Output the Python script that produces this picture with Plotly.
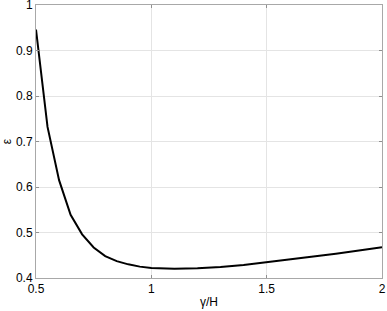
import plotly.graph_objects as go

gamma_h = [0.5, 0.55, 0.6, 0.65, 0.7, 0.75, 0.8, 0.85, 0.9, 0.95, 1.0, 1.05, 1.1,
           1.2, 1.3, 1.4, 1.5, 1.6, 1.7, 1.8, 1.9, 2.0]
eps = [0.946, 0.732, 0.615, 0.539, 0.496, 0.467, 0.448, 0.437, 0.430, 0.425, 0.422,
       0.4205, 0.4205, 0.4215, 0.424, 0.4285, 0.4345, 0.4405, 0.447, 0.4535, 0.4605, 0.4675]

x_ticks = [0.5, 1, 1.5, 2]
x_labels = ["0.5", "1", "1.5", "2"]
y_ticks = [0.4, 0.5, 0.6, 0.7, 0.8, 0.9, 1.0]
y_labels = ["0.4", "0.5", "0.6", "0.7", "0.8", "0.9", "1"]

fig = go.Figure()
fig.add_trace(go.Scatter(x=gamma_h, y=eps, mode="lines",
                         line=dict(color="black", width=2), showlegend=False))

axis_common = dict(
    showline=True, linecolor="#a8a8a8", linewidth=1, mirror="ticks",
    ticks="inside", ticklen=3, tickcolor="#909090",
    showgrid=True, gridcolor="#e4e4e4", gridwidth=1,
    zeroline=False, automargin=False, ticklabeloverflow="allow",
    tickfont=dict(family="Liberation Sans, Arial", size=12, color="black"),
)

fig.update_layout(
    width=387, height=311,
    margin=dict(l=36, r=5, t=5, b=33),
    paper_bgcolor="white", plot_bgcolor="white",
    font=dict(family="Liberation Sans, Arial", size=12, color="black"),
    xaxis=dict(range=[0.5, 2], tickvals=x_ticks, ticktext=x_labels,
               title=dict(text="γ/H", standoff=2, font=dict(size=12)), **axis_common),
    yaxis=dict(range=[0.4, 1], tickvals=y_ticks, ticktext=y_labels,
               title=dict(text="ε", standoff=4, font=dict(size=12)), **axis_common),
)

fig.write_html("out.html", config={"displayModeBar": False},
               post_script="document.body.style.margin='0';document.body.style.overflow='hidden';")
